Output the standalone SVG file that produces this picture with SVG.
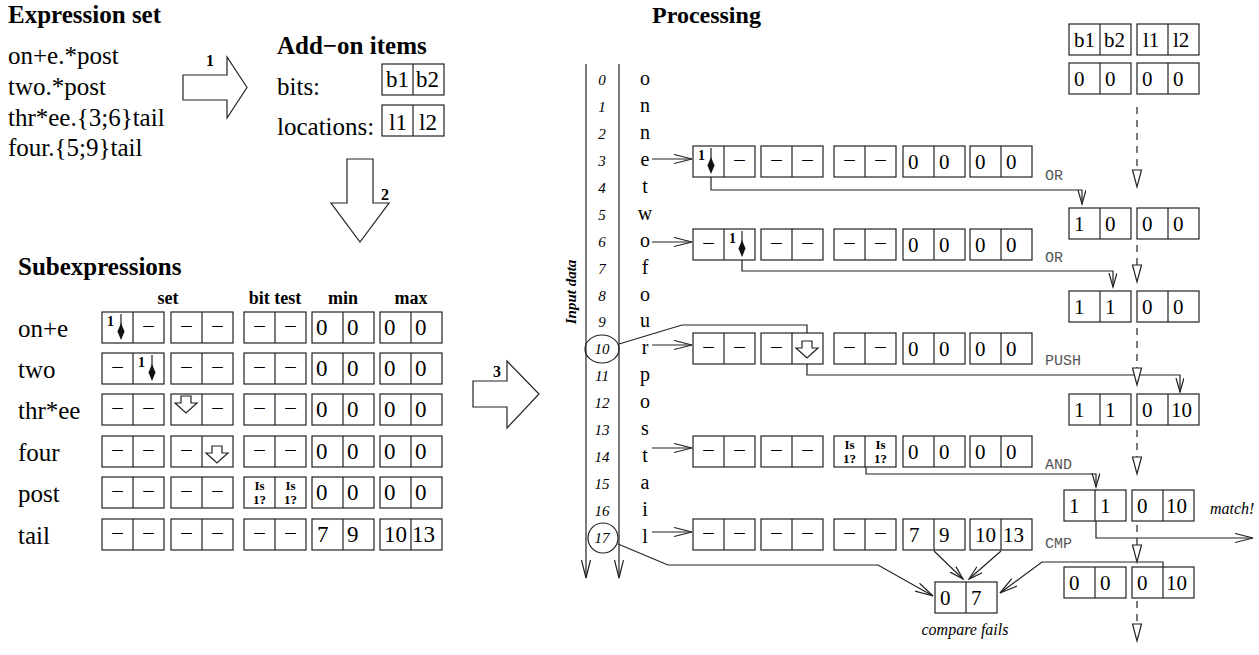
<svg xmlns="http://www.w3.org/2000/svg" width="1259" height="655" viewBox="0 0 1259 655">
<style>
text{font-family:"Liberation Serif","Times New Roman",serif;fill:#000}
.ttl{font-size:25px;font-weight:bold}
.big{font-size:25px}
.hd{font-size:18px;font-weight:bold;text-anchor:middle}
.num{font-size:16px;font-weight:bold;text-anchor:middle}
.c{font-size:21px}
.s{font-size:23px}
.cm{font-size:21px;text-anchor:middle}
.isq{font-size:13px;font-weight:bold;text-anchor:middle}
.one{font-size:14px;font-weight:bold}
.idx{font-size:15px;font-style:italic;text-anchor:middle}
.ch{font-size:20px;text-anchor:middle}
.op{font-family:"Liberation Mono","Courier New",monospace;font-size:15px;fill:#555}
.it{font-style:italic;font-size:16px}
.box{fill:#fff;stroke:#222;stroke-width:1.2}
.ln{fill:none;stroke:#222;stroke-width:1.2}
.dash{fill:none;stroke:#222;stroke-width:1.2;stroke-dasharray:7 6}
.blk{fill:#fff;stroke:#222;stroke-width:1.2}
</style>
<defs>
<g id="pair"><rect class="box" x="0" y="0" width="62" height="31"/><line class="ln" x1="31" y1="0" x2="31" y2="31"/></g>
<g id="pin"><line class="ln" x1="18" y1="2" x2="18" y2="14"/><polygon points="18,11 21.5,19.5 18,28 14.5,19.5" fill="#111"/></g>
<path id="hol" class="blk" d="M10,4 H20 V11 H26 L15,21 L4,11 H10 Z"/>
<path id="tri" class="blk" d="M-4.5,0 H4.5 L0,17 Z"/>
<marker id="ah" markerUnits="userSpaceOnUse" markerWidth="20" markerHeight="12" refX="18" refY="5" orient="auto"><path d="M0,0.5 L18,5 L0,9.5" fill="none" stroke="#222" stroke-width="1.2"/></marker>
<marker id="as" markerUnits="userSpaceOnUse" markerWidth="16" markerHeight="10" refX="14" refY="4.5" orient="auto"><path d="M0,0.5 L14,4.5 L0,8.5" fill="none" stroke="#222" stroke-width="1.2"/></marker>
<marker id="nh" markerUnits="userSpaceOnUse" markerWidth="16" markerHeight="10" refX="14" refY="4" orient="auto"><path d="M0,0 L14,4 L0,8" fill="none" stroke="#222" stroke-width="1.2"/></marker>
</defs>

<!-- Expression set -->
<g id="expression-set">
<text class="ttl" x="8" y="23">Expression set</text>
<text class="big" x="8" y="64">on+e.*post</text>
<text class="big" x="8" y="95">two.*post</text>
<text class="big" x="8" y="126">thr*ee.{3;6}tail</text>
<text class="big" x="8" y="156">four.{5;9}tail</text>
</g>

<g id="arrow1">
<polygon class="blk" points="183,75 227,75 227,57 247,87.5 227,118 227,100 183,100"/>
<text class="num" x="210" y="66">1</text>
</g>

<g id="addon">
<text class="ttl" x="277" y="54">Add−on items</text>
<text class="big" x="277" y="95">bits:</text>
<text class="big" x="277" y="135">locations:</text>
<use href="#pair" x="382" y="64"/>
<text class="s" x="386" y="87">b1</text><text class="s" x="416" y="87">b2</text>
<use href="#pair" x="382" y="105"/>
<text class="s" x="389" y="130">l1</text><text class="s" x="419" y="130">l2</text>
</g>

<g id="arrow2">
<polygon class="blk" points="347,159 373,159 373,203 389,203 360,242 331,203 347,203"/>
<text class="num" x="385" y="200">2</text>
</g>

<!-- Subexpressions -->
<g id="subexpressions">
<text class="ttl" x="18" y="275">Subexpressions</text>
<text class="hd" x="168" y="304">set</text>
<text class="hd" x="275" y="304">bit test</text>
<text class="hd" x="343" y="304">min</text>
<text class="hd" x="411" y="304">max</text>
<text class="big" x="18" y="337">on+e</text>
<text class="big" x="18" y="378">two</text>
<text class="big" x="18" y="419">thr*ee</text>
<text class="big" x="18" y="461">four</text>
<text class="big" x="18" y="502">post</text>
<text class="big" x="18" y="544">tail</text>
<use href="#pair" x="102" y="312"/><use href="#pair" x="171" y="312"/><use href="#pair" x="244" y="312"/><use href="#pair" x="312" y="312"/><use href="#pair" x="380" y="312"/>
<use href="#pair" x="102" y="353"/><use href="#pair" x="171" y="353"/><use href="#pair" x="244" y="353"/><use href="#pair" x="312" y="353"/><use href="#pair" x="380" y="353"/>
<use href="#pair" x="102" y="394"/><use href="#pair" x="171" y="394"/><use href="#pair" x="244" y="394"/><use href="#pair" x="312" y="394"/><use href="#pair" x="380" y="394"/>
<use href="#pair" x="102" y="436"/><use href="#pair" x="171" y="436"/><use href="#pair" x="244" y="436"/><use href="#pair" x="312" y="436"/><use href="#pair" x="380" y="436"/>
<use href="#pair" x="102" y="477"/><use href="#pair" x="171" y="477"/><use href="#pair" x="244" y="477"/><use href="#pair" x="312" y="477"/><use href="#pair" x="380" y="477"/>
<use href="#pair" x="102" y="519"/><use href="#pair" x="171" y="519"/><use href="#pair" x="244" y="519"/><use href="#pair" x="312" y="519"/><use href="#pair" x="380" y="519"/>
<use href="#pin" x="103" y="312"/><text class="one" x="107" y="326">1</text>
<text class="cm" x="148.5" y="332">–</text><text class="cm" x="186.5" y="332">–</text><text class="cm" x="217.5" y="332">–</text><text class="cm" x="259.5" y="332">–</text><text class="cm" x="290.5" y="332">–</text>
<text class="s" x="316" y="335">0</text><text class="s" x="347" y="335">0</text><text class="s" x="384" y="335">0</text><text class="s" x="415" y="335">0</text>
<text class="cm" x="117.5" y="373">–</text><use href="#pin" x="134" y="353"/><text class="one" x="138" y="367">1</text>
<text class="cm" x="186.5" y="373">–</text><text class="cm" x="217.5" y="373">–</text><text class="cm" x="259.5" y="373">–</text><text class="cm" x="290.5" y="373">–</text>
<text class="s" x="316" y="376">0</text><text class="s" x="347" y="376">0</text><text class="s" x="384" y="376">0</text><text class="s" x="415" y="376">0</text>
<text class="cm" x="117.5" y="414">–</text><text class="cm" x="148.5" y="414">–</text><use href="#hol" x="171" y="392"/><text class="cm" x="217.5" y="414">–</text><text class="cm" x="259.5" y="414">–</text><text class="cm" x="290.5" y="414">–</text>
<text class="s" x="316" y="417">0</text><text class="s" x="347" y="417">0</text><text class="s" x="384" y="417">0</text><text class="s" x="415" y="417">0</text>
<text class="cm" x="117.5" y="456">–</text><text class="cm" x="148.5" y="456">–</text><text class="cm" x="186.5" y="456">–</text><use href="#hol" x="202" y="442"/><text class="cm" x="259.5" y="456">–</text><text class="cm" x="290.5" y="456">–</text>
<text class="s" x="316" y="459">0</text><text class="s" x="347" y="459">0</text><text class="s" x="384" y="459">0</text><text class="s" x="415" y="459">0</text>
<text class="cm" x="117.5" y="497">–</text><text class="cm" x="148.5" y="497">–</text><text class="cm" x="186.5" y="497">–</text><text class="cm" x="217.5" y="497">–</text>
<text class="isq" x="259.5" y="490">Is</text><text class="isq" x="259.5" y="504">1?</text><text class="isq" x="290.5" y="490">Is</text><text class="isq" x="290.5" y="504">1?</text>
<text class="s" x="316" y="500">0</text><text class="s" x="347" y="500">0</text><text class="s" x="384" y="500">0</text><text class="s" x="415" y="500">0</text>
<text class="cm" x="117.5" y="539">–</text><text class="cm" x="148.5" y="539">–</text><text class="cm" x="186.5" y="539">–</text><text class="cm" x="217.5" y="539">–</text><text class="cm" x="259.5" y="539">–</text><text class="cm" x="290.5" y="539">–</text>
<text class="s" x="317" y="542">7</text><text class="s" x="347" y="542">9</text><text class="s" x="384" y="542">10</text><text class="s" x="412" y="542">13</text>
</g>

<g id="arrow3">
<polygon class="blk" points="473,381 507,381 507,361 539,394 507,428 507,407 473,407"/>
<text class="num" x="497" y="377">3</text>
</g>

<text class="ttl" x="652" y="23" style="font-size:24px">Processing</text>

<g id="input-data">
<text font-size="15" font-weight="bold" font-style="italic" text-anchor="middle" transform="translate(576,292) rotate(-90)">Input data</text>
<text class="idx" x="602" y="85">0</text><text class="idx" x="602" y="112">1</text><text class="idx" x="602" y="139">2</text><text class="idx" x="602" y="166">3</text><text class="idx" x="602" y="193">4</text><text class="idx" x="602" y="220">5</text><text class="idx" x="602" y="247">6</text><text class="idx" x="602" y="274">7</text><text class="idx" x="602" y="301">8</text><text class="idx" x="602" y="327">9</text><text class="idx" x="602" y="354">10</text><text class="idx" x="602" y="381">11</text><text class="idx" x="602" y="408">12</text><text class="idx" x="602" y="435">13</text><text class="idx" x="602" y="462">14</text><text class="idx" x="602" y="489">15</text><text class="idx" x="602" y="516">16</text><text class="idx" x="602" y="543">17</text>
<text class="ch" x="645" y="85">o</text><text class="ch" x="645" y="112">n</text><text class="ch" x="645" y="139">n</text><text class="ch" x="645" y="166">e</text><text class="ch" x="645" y="193">t</text><text class="ch" x="645" y="220">w</text><text class="ch" x="645" y="247">o</text><text class="ch" x="645" y="274">f</text><text class="ch" x="645" y="301">o</text><text class="ch" x="645" y="327">u</text><text class="ch" x="645" y="354">r</text><text class="ch" x="645" y="381">p</text><text class="ch" x="645" y="408">o</text><text class="ch" x="645" y="435">s</text><text class="ch" x="645" y="462">t</text><text class="ch" x="645" y="489">a</text><text class="ch" x="645" y="516">i</text><text class="ch" x="645" y="543">l</text>
<ellipse class="ln" cx="602" cy="349" rx="17" ry="14"/>
<circle class="ln" cx="603" cy="538" r="15"/>
</g>

<g id="connectors">
<line class="ln" x1="586" y1="64" x2="586" y2="578" marker-end="url(#ah)"/>
<line class="ln" x1="619" y1="64" x2="619" y2="578" marker-end="url(#ah)"/>
<line class="ln" x1="652" y1="159" x2="692" y2="159" marker-end="url(#ah)"/>
<line class="ln" x1="652" y1="242" x2="692" y2="242" marker-end="url(#ah)"/>
<line class="ln" x1="652" y1="345" x2="692" y2="345" marker-end="url(#ah)"/>
<line class="ln" x1="652" y1="448" x2="692" y2="448" marker-end="url(#ah)"/>
<line class="ln" x1="652" y1="532" x2="692" y2="532" marker-end="url(#ah)"/>
<path class="ln" d="M711,177 V190 H1082 V204" marker-end="url(#nh)"/>
<path class="ln" d="M742,260 V271 H1113 V287" marker-end="url(#nh)"/>
<path class="ln" d="M619,344 L682,325 H807 V341"/>
<path class="ln" d="M807,364 V375 H1180 V392" marker-end="url(#nh)"/>
<path class="ln" d="M866,467 V474 H1096 V487" marker-end="url(#nh)"/>
<path class="ln" d="M1096,521 V538 H1253" marker-end="url(#ah)"/>
<path class="ln" d="M1163,567 V562 H1042 L1000,593" marker-end="url(#ah)"/>
<path class="ln" d="M618,544 L668,565 H878 L933,596" marker-end="url(#ah)"/>
<line class="ln" x1="934" y1="551" x2="963" y2="579" marker-end="url(#as)"/>
<line class="ln" x1="1001" y1="551" x2="969" y2="579" marker-end="url(#as)"/>
<line class="dash" x1="1137" y1="107" x2="1137" y2="170"/>
<line class="dash" x1="1137" y1="245" x2="1137" y2="265"/>
<line class="dash" x1="1137" y1="328" x2="1137" y2="368"/>
<line class="dash" x1="1137" y1="430" x2="1137" y2="457"/>
<line class="dash" x1="1137" y1="525" x2="1137" y2="545"/>
<line class="dash" x1="1137" y1="601" x2="1137" y2="624"/>
<use href="#tri" x="1137" y="170"/>
<use href="#tri" x="1137" y="265"/>
<use href="#tri" x="1137" y="368"/>
<use href="#tri" x="1137" y="457"/>
<use href="#tri" x="1137" y="545"/>
<use href="#tri" x="1137" y="624"/>
<text class="op" x="1045" y="180">OR</text>
<text class="op" x="1045" y="262">OR</text>
<text class="op" x="1045" y="365">PUSH</text>
<text class="op" x="1045" y="469">AND</text>
<text class="op" x="1045" y="548">CMP</text>
<text class="it" x="1210" y="514">match!</text>
</g>

<g id="row-3">
<use href="#pair" x="693" y="146"/><use href="#pair" x="761" y="146"/><use href="#pair" x="834" y="146"/><use href="#pair" x="903" y="146"/><use href="#pair" x="970" y="146"/>
<use href="#pin" x="693" y="146"/><text class="one" x="698" y="160">1</text>
<text class="cm" x="739.5" y="166">–</text><text class="cm" x="776.5" y="166">–</text><text class="cm" x="807.5" y="166">–</text><text class="cm" x="849.5" y="166">–</text><text class="cm" x="880.5" y="166">–</text>
<text class="c" x="908" y="169">0</text><text class="c" x="939" y="169">0</text><text class="c" x="975" y="169">0</text><text class="c" x="1006" y="169">0</text>
</g>
<g id="row-6">
<use href="#pair" x="693" y="229"/><use href="#pair" x="761" y="229"/><use href="#pair" x="834" y="229"/><use href="#pair" x="903" y="229"/><use href="#pair" x="970" y="229"/>
<text class="cm" x="708.5" y="249">–</text><use href="#pin" x="724" y="229"/><text class="one" x="729" y="243">1</text>
<text class="cm" x="776.5" y="249">–</text><text class="cm" x="807.5" y="249">–</text><text class="cm" x="849.5" y="249">–</text><text class="cm" x="880.5" y="249">–</text>
<text class="c" x="908" y="252">0</text><text class="c" x="939" y="252">0</text><text class="c" x="975" y="252">0</text><text class="c" x="1006" y="252">0</text>
</g>
<g id="row-10">
<use href="#pair" x="693" y="333"/><use href="#pair" x="761" y="333"/><use href="#pair" x="834" y="333"/><use href="#pair" x="903" y="333"/><use href="#pair" x="970" y="333"/>
<text class="cm" x="708.5" y="353">–</text><text class="cm" x="739.5" y="353">–</text><text class="cm" x="776.5" y="353">–</text><use href="#hol" x="792" y="337"/>
<text class="cm" x="849.5" y="353">–</text><text class="cm" x="880.5" y="353">–</text>
<text class="c" x="908" y="356">0</text><text class="c" x="939" y="356">0</text><text class="c" x="975" y="356">0</text><text class="c" x="1006" y="356">0</text>
</g>
<g id="row-14">
<use href="#pair" x="693" y="436"/><use href="#pair" x="761" y="436"/><use href="#pair" x="834" y="436"/><use href="#pair" x="903" y="436"/><use href="#pair" x="970" y="436"/>
<text class="cm" x="708.5" y="456">–</text><text class="cm" x="739.5" y="456">–</text><text class="cm" x="776.5" y="456">–</text><text class="cm" x="807.5" y="456">–</text>
<text class="isq" x="849.5" y="449">Is</text><text class="isq" x="849.5" y="463">1?</text><text class="isq" x="880.5" y="449">Is</text><text class="isq" x="880.5" y="463">1?</text>
<text class="c" x="908" y="459">0</text><text class="c" x="939" y="459">0</text><text class="c" x="975" y="459">0</text><text class="c" x="1006" y="459">0</text>
</g>
<g id="row-17">
<use href="#pair" x="693" y="519"/><use href="#pair" x="761" y="519"/><use href="#pair" x="834" y="519"/><use href="#pair" x="903" y="519"/><use href="#pair" x="970" y="519"/>
<text class="cm" x="708.5" y="539">–</text><text class="cm" x="739.5" y="539">–</text><text class="cm" x="776.5" y="539">–</text><text class="cm" x="807.5" y="539">–</text><text class="cm" x="849.5" y="539">–</text><text class="cm" x="880.5" y="539">–</text>
<text class="c" x="909" y="542">7</text><text class="c" x="939" y="542">9</text><text class="c" x="975" y="542">10</text><text class="c" x="1003" y="542">13</text>
</g>

<g id="compare">
<use href="#pair" x="935" y="582"/>
<text class="c" x="940" y="605">0</text><text class="c" x="971" y="605">7</text>
<text class="it" x="965" y="635" text-anchor="middle">compare fails</text>
</g>

<g id="state-header">
<use href="#pair" x="1069" y="24"/><use href="#pair" x="1137" y="24"/>
<text class="c" x="1074" y="47">b1</text><text class="c" x="1104" y="47">b2</text><text class="c" x="1143" y="47">l1</text><text class="c" x="1173" y="47">l2</text>
</g>
<g id="state-0">
<use href="#pair" x="1069" y="63"/><use href="#pair" x="1137" y="63"/>
<text class="c" x="1074" y="86">0</text><text class="c" x="1105" y="86">0</text><text class="c" x="1142" y="86">0</text><text class="c" x="1173" y="86">0</text>
</g>
<g id="state-1">
<use href="#pair" x="1069" y="208"/><use href="#pair" x="1137" y="208"/>
<text class="c" x="1074" y="231">1</text><text class="c" x="1105" y="231">0</text><text class="c" x="1142" y="231">0</text><text class="c" x="1173" y="231">0</text>
</g>
<g id="state-2">
<use href="#pair" x="1069" y="291"/><use href="#pair" x="1137" y="291"/>
<text class="c" x="1074" y="314">1</text><text class="c" x="1105" y="314">1</text><text class="c" x="1142" y="314">0</text><text class="c" x="1173" y="314">0</text>
</g>
<g id="state-3">
<use href="#pair" x="1069" y="394"/><use href="#pair" x="1137" y="394"/>
<text class="c" x="1074" y="417">1</text><text class="c" x="1105" y="417">1</text><text class="c" x="1142" y="417">0</text><text class="c" x="1171" y="417">10</text>
</g>
<g id="state-4">
<use href="#pair" x="1064" y="490"/><use href="#pair" x="1132" y="490"/>
<text class="c" x="1069" y="513">1</text><text class="c" x="1100" y="513">1</text><text class="c" x="1137" y="513">0</text><text class="c" x="1166" y="513">10</text>
</g>
<g id="state-5">
<use href="#pair" x="1064" y="567"/><use href="#pair" x="1132" y="567"/>
<text class="c" x="1069" y="590">0</text><text class="c" x="1100" y="590">0</text><text class="c" x="1137" y="590">0</text><text class="c" x="1166" y="590">10</text>
</g>
</svg>
